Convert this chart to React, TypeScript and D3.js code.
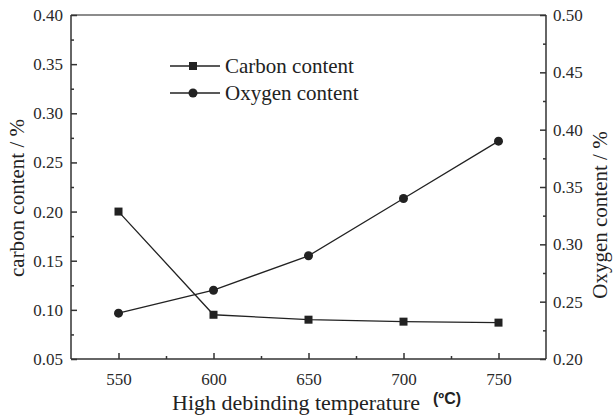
import { useRef, useEffect } from 'react';
import * as d3 from 'd3';

const temps = [550, 600, 650, 700, 750];
const carbon = [0.2, 0.095, 0.09, 0.088, 0.087];
const oxygen = [0.24, 0.26, 0.29, 0.34, 0.39];
const xTicks = [550, 600, 650, 700, 750];
const leftTicks = [0.05, 0.1, 0.15, 0.2, 0.25, 0.3, 0.35, 0.4];
const rightTicks = [0.2, 0.25, 0.3, 0.35, 0.4, 0.45, 0.5];

export default function App() {
  const svgRef = useRef<SVGSVGElement>(null);

  useEffect(() => {
    if (!svgRef.current) return;
    const svg = d3.select(svgRef.current);
    svg.selectAll('*').remove();

    const L = 71, R = 546, T = 15, B = 359;
    const ink = '#222';
    const font = "'Liberation Serif', 'Times New Roman', serif";

    const x = d3.scaleLinear().domain([525, 775]).range([L, R]);
    const yL = d3.scaleLinear().domain([0.05, 0.4]).range([B, T]);
    const yR = d3.scaleLinear().domain([0.2, 0.5]).range([B, T]);

    svg.append('rect').attr('width', 613).attr('height', 417).attr('fill', '#fff');

    // frame (top edge a bit lighter, as in the scan)
    svg.append('line').attr('x1', L).attr('x2', R).attr('y1', T).attr('y2', T)
      .attr('stroke', '#666').attr('stroke-width', 1.5);
    svg.append('line').attr('x1', L).attr('x2', R).attr('y1', B).attr('y2', B)
      .attr('stroke', '#333').attr('stroke-width', 1.5);
    svg.append('line').attr('x1', L).attr('x2', L).attr('y1', T).attr('y2', B)
      .attr('stroke', '#333').attr('stroke-width', 1.5);
    svg.append('line').attr('x1', R).attr('x2', R).attr('y1', T).attr('y2', B)
      .attr('stroke', '#333').attr('stroke-width', 1.5);

    const styleAxis = (g: d3.Selection<SVGGElement, unknown, null, undefined>) => {
      g.attr('font-family', null).attr('font-size', null);
      g.select('.domain').remove();
      g.selectAll('line').attr('stroke', '#333').attr('stroke-width', 1.5);
      g.selectAll('text').style('font-family', font).style('font-size', '17px').attr('fill', '#2a2a2a');
    };

    // bottom axis, ticks inward
    svg.append('g').attr('transform', `translate(0,${B})`)
      .call(d3.axisBottom(x).tickValues(xTicks).tickSize(-6).tickPadding(14).tickFormat(d3.format('d')))
      .call(styleAxis);
    svg.append('g').attr('transform', `translate(0,${B})`)
      .call(d3.axisBottom(x).tickValues([575, 625, 675, 725]).tickSize(-3).tickFormat(() => ''))
      .call(styleAxis);

    // left axis
    svg.append('g').attr('transform', `translate(${L},0)`)
      .call(d3.axisLeft(yL).tickValues(leftTicks).tickSize(-6).tickPadding(8).tickFormat(d3.format('.2f')))
      .call(styleAxis);
    svg.append('g').attr('transform', `translate(${L},0)`)
      .call(d3.axisLeft(yL).tickValues(d3.range(0.075, 0.4, 0.05)).tickSize(-3).tickFormat(() => ''))
      .call(styleAxis);

    // right axis
    svg.append('g').attr('transform', `translate(${R},0)`)
      .call(d3.axisRight(yR).tickValues(rightTicks).tickSize(-6).tickPadding(7).tickFormat(d3.format('.2f')))
      .call(styleAxis);
    svg.append('g').attr('transform', `translate(${R},0)`)
      .call(d3.axisRight(yR).tickValues(d3.range(0.225, 0.5, 0.05)).tickSize(-3).tickFormat(() => ''))
      .call(styleAxis);

    // carbon series
    const lineC = d3.line<number>().x((_, i) => x(temps[i])).y((d) => yL(d));
    svg.append('path').datum(carbon).attr('d', lineC).attr('fill', 'none').attr('stroke', ink).attr('stroke-width', 1.3);
    svg.selectAll('.sq').data(carbon).join('rect').attr('class', 'sq')
      .attr('x', (_, i) => x(temps[i]) - 4).attr('y', (d) => yL(d) - 4)
      .attr('width', 8).attr('height', 8).attr('fill', ink);

    // oxygen series
    const lineO = d3.line<number>().x((_, i) => x(temps[i])).y((d) => yR(d));
    svg.append('path').datum(oxygen).attr('d', lineO).attr('fill', 'none').attr('stroke', ink).attr('stroke-width', 1.3);
    svg.selectAll('.ci').data(oxygen).join('circle').attr('class', 'ci')
      .attr('cx', (_, i) => x(temps[i])).attr('cy', (d) => yR(d)).attr('r', 4.5).attr('fill', ink);

    // legend
    const legend = [
      { label: 'Carbon content', shape: 'square' },
      { label: 'Oxygen content', shape: 'circle' },
    ];
    legend.forEach((item, i) => {
      const ly = 66 + i * 27;
      svg.append('line').attr('x1', 170).attr('x2', 220).attr('y1', ly).attr('y2', ly)
        .attr('stroke', ink).attr('stroke-width', 1.5);
      if (item.shape === 'square') {
        svg.append('rect').attr('x', 189).attr('y', ly - 4).attr('width', 8).attr('height', 8).attr('fill', ink);
      } else {
        svg.append('circle').attr('cx', 193).attr('cy', ly).attr('r', 4.5).attr('fill', ink);
      }
      svg.append('text').attr('x', 225).attr('y', ly + 7).style('font-family', font).style('font-size', '21px')
        .attr('fill', ink).text(item.label);
    });

    // axis titles
    svg.append('text').attr('x', 172).attr('y', 410).style('font-family', font).style('font-size', '22px')
      .attr('fill', ink).text('High debinding temperature');
    svg.append('text').attr('x', 433).attr('y', 404).style('font-family', "'Liberation Sans', Arial, sans-serif")
      .style('font-size', '16px').attr('font-weight', 'bold').attr('fill', ink).text('(ºC)');
    svg.append('text').attr('transform', 'translate(24,198) rotate(-90)').attr('text-anchor', 'middle')
      .style('font-family', font).style('font-size', '21px').attr('fill', ink).text('carbon content / %');
    svg.append('text').attr('transform', 'translate(607,215) rotate(-90)').attr('text-anchor', 'middle')
      .style('font-family', font).style('font-size', '21px').attr('fill', ink).text('Oxygen content / %');
  }, []);

  return (
    <svg ref={svgRef} width={613} height={417}
      style={{ position: 'absolute', left: 0, top: 0, display: 'block' }} />
  );
}
